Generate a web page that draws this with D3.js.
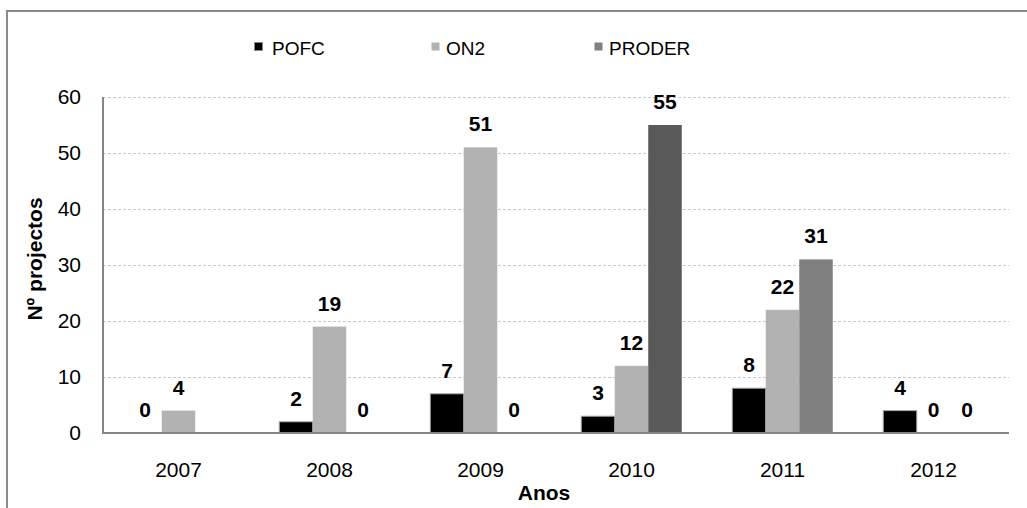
<!DOCTYPE html>
<html>
<head>
<meta charset="utf-8">
<script src="https://cdn.jsdelivr.net/npm/d3@7"></script>
<style>
  body { margin: 0; background: #fff; }
  svg { display: block; font-family: "Liberation Sans", Arial, sans-serif; }
</style>
</head>
<body>
<svg id="chart" width="1027" height="508"></svg>
<script>
// data
var years = ["2007", "2008", "2009", "2010", "2011", "2012"];
var seriesNames = ["POFC", "ON2", "PRODER"];
var pofc = [0, 2, 7, 3, 8, 4];
var on2 = [4, 19, 51, 12, 22, 0];
var proder = [null, 0, 0, 55, 31, 0];
var yTicks = [0, 10, 20, 30, 40, 50, 60];

d3.select(window).on("load", init);

function init() {
    var svg = d3.select("#chart");
    var margin = { left: 103, right: 18, top: 97, bottom: 75 };
    var w = 1027, h = 508;

    var colors = { POFC: "#000000", ON2: "#b2b2b2", PRODER: "#808080" };
    var highlightYear = "2010";   // that PRODER bar is darker in the original

    // outer frame (cut at right and bottom)
    svg.append("rect")
        .attr("x", 7).attr("y", 11)
        .attr("width", 1100).attr("height", 600)
        .attr("fill", "none")
        .attr("stroke", "#8a8a8a")
        .attr("stroke-width", 2);

    var x = d3.scaleBand()
        .domain(years)
        .range([margin.left, w - margin.right]);

    var y = d3.scaleLinear()
        .domain([0, 60])
        .range([h - margin.bottom, margin.top]);

    var barW = 33.5;
    var xs = d3.scaleBand()
        .domain(seriesNames)
        .range([0, barW * 3]);

    // gridlines
    svg.append("g")
        .selectAll("line")
        .data(yTicks.filter(function(d) { return d > 0; }))
        .enter()
        .append("line")
        .attr("x1", margin.left)
        .attr("x2", w - margin.right)
        .attr("y1", function(d) { return Math.round(y(d)) + 0.5; })
        .attr("y2", function(d) { return Math.round(y(d)) + 0.5; })
        .attr("stroke", "#c8c8c8")
        .attr("stroke-dasharray", "3,2");

    // y tick labels
    svg.append("g")
        .selectAll("text")
        .data(yTicks)
        .enter()
        .append("text")
        .attr("x", 81)
        .attr("y", function(d) { return y(d); })
        .attr("dy", "0.35em")
        .attr("text-anchor", "end")
        .style("font-size", "21px")
        .text(function(d) { return d; });

    // x tick labels
    svg.append("g")
        .selectAll("text")
        .data(years)
        .enter()
        .append("text")
        .attr("x", function(d) { return x(d) + x.bandwidth() / 2; })
        .attr("y", 477)
        .attr("text-anchor", "middle")
        .style("font-size", "21px")
        .text(function(d) { return d; });

    var rows = [];
    years.forEach(function(yr, i) {
        rows.push({ year: yr, name: "POFC", value: pofc[i] });
        rows.push({ year: yr, name: "ON2", value: on2[i] });
        rows.push({ year: yr, name: "PRODER", value: proder[i] });
    });
    rows = rows.filter(function(d) { return d.value !== null; });

    function barX(d) {
        return x(d.year) + (x.bandwidth() - barW * 3) / 2 + xs(d.name);
    }

    svg.append("g")
        .selectAll("rect")
        .data(rows.filter(function(d) { return d.value > 0; }))
        .enter()
        .append("rect")
        .attr("x", barX)
        .attr("y", function(d) { return y(d.value); })
        .attr("width", barW)
        .attr("height", function(d) { return y(0) - y(d.value); })
        .attr("fill", function(d) {
            if (d.name === "PRODER" && d.year === highlightYear) return "#595959";
            return colors[d.name];
        })
        .attr("stroke", function(d) { return d.name === "POFC" ? "#a6a6a6" : "none"; })
        .attr("stroke-width", 1);

    // value labels
    svg.append("g")
        .selectAll("text")
        .data(rows)
        .enter()
        .append("text")
        .attr("x", function(d) { return barX(d) + barW / 2; })
        .attr("y", function(d) { return y(d.value) - 16; })
        .attr("text-anchor", "middle")
        .style("font-size", "21px")
        .style("font-weight", "bold")
        .text(function(d) { return d.value; });

    // axes lines
    svg.append("line")
        .attr("x1", margin.left).attr("x2", margin.left)
        .attr("y1", margin.top).attr("y2", y(0))
        .attr("stroke", "#868686").attr("stroke-width", 2);
    svg.append("line")
        .attr("x1", margin.left - 1).attr("x2", w - margin.right)
        .attr("y1", y(0)).attr("y2", y(0))
        .attr("stroke", "#868686").attr("stroke-width", 2);

    // axis titles
    svg.append("text")
        .attr("transform", "translate(42," + ((margin.top + y(0)) / 2 - 6) + ") rotate(-90)")
        .attr("text-anchor", "middle")
        .style("font-size", "21px")
        .style("font-weight", "bold")
        .text("Nº projectos");

    svg.append("text")
        .attr("x", 544)
        .attr("y", 500)
        .attr("text-anchor", "middle")
        .style("font-size", "21px")
        .style("font-weight", "bold")
        .text("Anos");

    // legend
    var legendX = [254, 431, 594];
    var legend = svg.append("g")
        .selectAll("g")
        .data(seriesNames)
        .enter()
        .append("g")
        .attr("transform", function(d, i) { return "translate(" + legendX[i] + ",0)"; });
    legend.append("rect")
        .attr("x", 0.5).attr("y", 42.5)
        .attr("width", 8).attr("height", 8)
        .attr("fill", function(d) { return colors[d]; })
        .attr("stroke", function(d) { return d === "POFC" ? "#8a8a8a" : "none"; });
    legend.append("text")
        .attr("x", function(d, i) { return [18, 15, 15][i]; })
        .attr("y", 55)
        .style("font-size", "19px")
        .text(function(d) { return d; });
}
</script>
</body>
</html>
